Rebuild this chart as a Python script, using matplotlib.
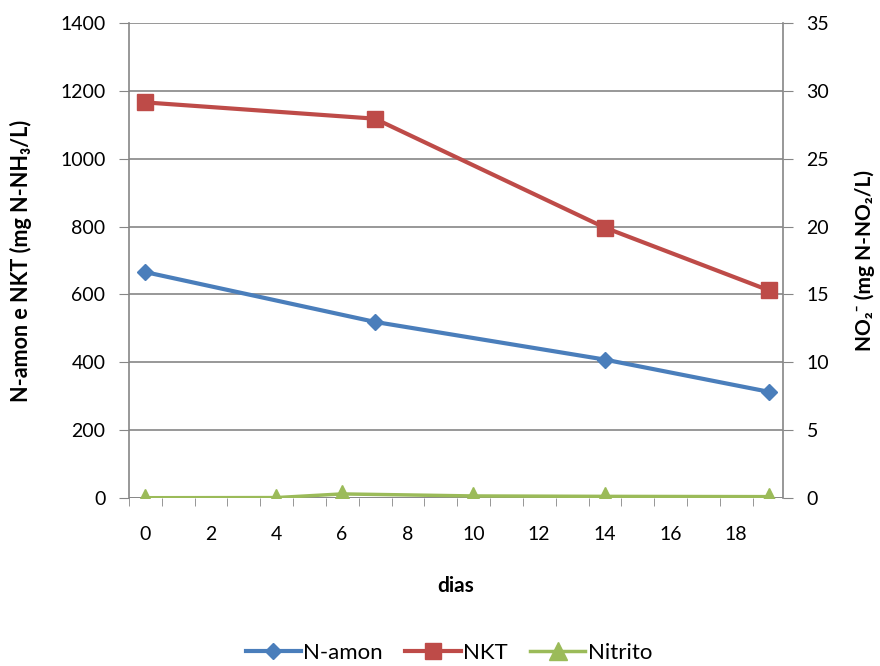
import matplotlib
matplotlib.use("Agg")
import matplotlib.pyplot as plt
import numpy as np

plt.rcParams['font.family'] = ['Lato', 'DejaVu Sans']

dias_amon = [0, 7, 14, 19]
n_amon = [666, 519, 408, 313]
nkt = [1166, 1118, 797, 612]

dias_nitrito = [0, 4, 6, 10, 14, 19]
nitrito = [0.02, 0.03, 0.3, 0.15, 0.12, 0.1]

azul = "#4A7EBB"
vermelho = "#BE4B48"
verde = "#9BBB59"
cinza = "#868686"

fig = plt.figure(figsize=(8.8, 6.66), dpi=100)
ax = fig.add_axes([129/880, 1-498/666, (783-129)/880, (498-23)/666])
ax2 = ax.twinx()

l1, = ax.plot(dias_amon, n_amon, color=azul, lw=3, marker='D', ms=8,
              label="N-amon", zorder=3)
l2, = ax.plot(dias_amon, nkt, color=vermelho, lw=3, marker='s', ms=12,
              label="NKT", zorder=3)
l3, = ax2.plot(dias_nitrito, nitrito, color=verde, lw=2.5, marker='^', ms=13,
               label="Nitrito", zorder=3)

ax.set_xlim(-0.49, 19.43)
ax.set_ylim(0, 1400)
ax2.set_ylim(0, 35)
ax.set_yticks(np.arange(0, 1401, 200))
ax2.set_yticks(np.arange(0, 36, 5))
ax.set_xticks(np.arange(0, 19, 2))
ax.set_xticks(np.arange(-0.49, 19.5, 1.0), minor=True)
ax.tick_params(axis='x', which='major', length=0, pad=20, labelsize=14)
ax.tick_params(axis='x', which='minor', length=6, color=cinza, direction='out')
ax.tick_params(axis='y', length=7, color=cinza, labelsize=14, pad=10)
ax2.tick_params(axis='y', length=7, color=cinza, labelsize=14, pad=10)

ax.grid(axis='y', color=cinza, lw=1.2)
ax.set_axisbelow(True)
for a in (ax, ax2):
    for s in a.spines.values():
        s.set_visible(False)
ax.spines['left'].set_visible(True)
ax.spines['left'].set_color(cinza)
ax.spines['left'].set_linewidth(1.2)
ax2.spines['right'].set_visible(True)
ax2.spines['right'].set_color(cinza)
ax2.spines['right'].set_linewidth(1.2)
ax.axhline(0, color=cinza, lw=1.2, zorder=1)

ax.set_xlabel("dias", fontsize=15, fontweight='bold', labelpad=24)
ax.set_ylabel("N-amon e NKT (mg N-NH₃/L)", fontsize=15.5, fontweight='bold', labelpad=20)
ax2.set_ylabel("NO₂⁻ (mg N-NO₂/L)", fontsize=15, fontweight='bold', labelpad=18)

fig.legend(handles=[l1, l2, l3], loc='lower center', ncol=3, frameon=False,
           bbox_to_anchor=(0.51, -0.025), fontsize=16, handlelength=2.5,
           columnspacing=1.0, handletextpad=0.1)

fig.savefig("out.png", dpi=100)
